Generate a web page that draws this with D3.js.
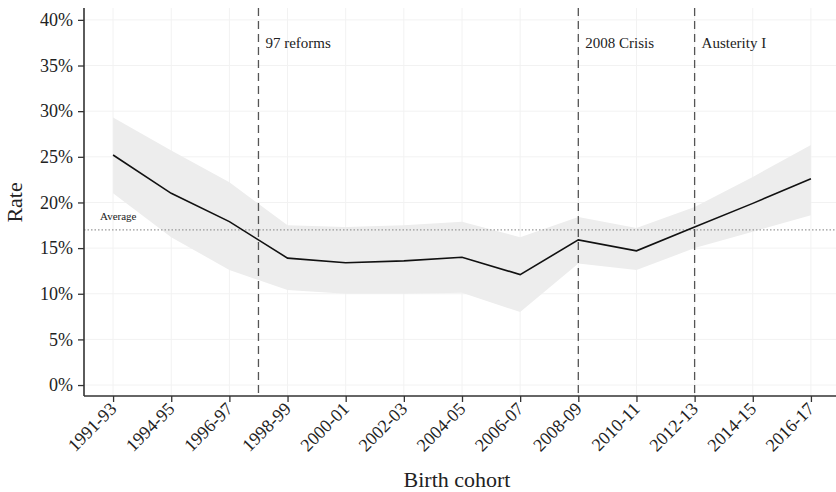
<!DOCTYPE html>
<html>
<head>
<meta charset="utf-8">
<script src="https://cdn.jsdelivr.net/npm/d3@7"></script>
<style>
  body { margin: 0; background: #fff; }
  svg text { font-family: "Liberation Serif", "DejaVu Serif", serif; fill: #222; }
</style>
</head>
<body>
<div id="chart"></div>
<script>
let width = 836;
let height = 492;

// data
let cohorts = ["1991-93", "1994-95", "1996-97", "1998-99", "2000-01", "2002-03", "2004-05",
	"2006-07", "2008-09", "2010-11", "2012-13", "2014-15", "2016-17"];
let rate  = [25.2, 21.0, 17.9, 13.9, 13.4, 13.6, 14.0, 12.1, 15.9, 14.7, 17.3, 19.9, 22.6];
let upper = [29.3, 25.7, 22.2, 17.5, 17.3, 17.5, 17.9, 16.2, 18.4, 17.2, 19.5, 22.8, 26.3];
let lower = [21.0, 16.2, 12.6, 10.4, 10.0, 10.0, 10.1, 8.0, 13.3, 12.6, 15.0, 16.8, 18.6];
let yTicks = [0, 5, 10, 15, 20, 25, 30, 35, 40];
let average = 17.0;
// position in cohort index units
let events = [
	{pos: 2.5, label: "97 reforms"},
	{pos: 8, label: "2008 Crisis"},
	{pos: 10, label: "Austerity I"}
];

let pLeft = 84, pRight = 840, pTop = 8, pBottom = 396;
let serif = "'Liberation Serif', 'DejaVu Serif', serif";

let svg = d3.select("#chart").append("svg")
	.attr("width", width).attr("height", height);

let x = d3.scalePoint().domain(cohorts).range([pLeft, pRight]).padding(0.5);
let xi = d3.scaleLinear().domain([0, cohorts.length - 1])
	.range([x(cohorts[0]), x(cohorts[cohorts.length - 1])]);
let y = d3.scaleLinear().domain([-1.2, 41.3]).range([pBottom, pTop]);

// grid
svg.append("g").selectAll("line").data(yTicks).join("line")
	.attr("x1", pLeft).attr("x2", pRight)
	.attr("y1", d => y(d)).attr("y2", d => y(d))
	.attr("stroke", "#f2f2f2").attr("stroke-width", 1);
svg.append("g").selectAll("line").data(cohorts).join("line")
	.attr("x1", d => x(d)).attr("x2", d => x(d))
	.attr("y1", pTop).attr("y2", pBottom)
	.attr("stroke", "#f2f2f2").attr("stroke-width", 1);

// confidence ribbon
let band = d3.area()
	.x((d, i) => x(cohorts[i]))
	.y0((d, i) => y(lower[i]))
	.y1((d, i) => y(upper[i]));
svg.append("path").datum(rate)
	.attr("d", band)
	.attr("fill", "#ededed");

// average line
svg.append("line")
	.attr("x1", pLeft).attr("x2", pRight)
	.attr("y1", y(average)).attr("y2", y(average))
	.attr("stroke", "#999").attr("stroke-width", 1.2)
	.attr("stroke-dasharray", "1.5,2");
svg.append("text")
	.attr("x", 100).attr("y", y(average) - 10)
	.style("font-family", serif).style("font-size", "11px")
	.text("Average");

// event lines
svg.append("g").selectAll("line").data(events).join("line")
	.attr("x1", d => xi(d.pos)).attr("x2", d => xi(d.pos))
	.attr("y1", pTop).attr("y2", pBottom)
	.attr("stroke", "#555").attr("stroke-width", 1.3)
	.attr("stroke-dasharray", "8,5");
svg.append("g").selectAll("text").data(events).join("text")
	.attr("x", d => xi(d.pos) + 7).attr("y", 48)
	.style("font-family", serif).style("font-size", "15px")
	.text(d => d.label);

// main line
let line = d3.line()
	.x((d, i) => x(cohorts[i]))
	.y(d => y(d));
svg.append("path").datum(rate)
	.attr("d", line)
	.attr("fill", "none").attr("stroke", "#111").attr("stroke-width", 1.6);

// axes
let yAxis = svg.append("g")
	.attr("transform", `translate(${pLeft},0)`)
	.call(d3.axisLeft(y).tickValues(yTicks).tickSize(6).tickPadding(5).tickFormat(d => d + "%"));
yAxis.select(".domain").attr("d", `M0,${pTop}V${pBottom}`).attr("stroke", "#333").attr("stroke-width", 1.6);
yAxis.selectAll(".tick line").attr("stroke", "#333").attr("stroke-width", 1.3);
yAxis.selectAll(".tick text")
	.style("font-family", serif).style("font-size", "18px").style("fill", "#222");

let xAxis = svg.append("g")
	.attr("transform", `translate(0,${pBottom})`)
	.call(d3.axisBottom(x).tickSize(6).tickPadding(4));
xAxis.select(".domain").attr("d", `M${pLeft},0H${width}`).attr("stroke", "#333").attr("stroke-width", 1.6);
xAxis.selectAll(".tick line").attr("stroke", "#333").attr("stroke-width", 1.3);
xAxis.selectAll(".tick text")
	.style("font-family", serif).style("font-size", "18px").style("fill", "#222")
	.attr("text-anchor", "end")
	.attr("dy", 0)
	.attr("transform", "translate(4,14) rotate(-45)")
	.attr("y", 0).attr("x", 0);

// axis titles
svg.append("text")
	.attr("x", 457).attr("y", 487)
	.attr("text-anchor", "middle")
	.style("font-family", serif).style("font-size", "22px")
	.text("Birth cohort");
svg.append("text")
	.attr("transform", `translate(22,${y(20)}) rotate(-90)`)
	.attr("text-anchor", "middle")
	.style("font-family", serif).style("font-size", "22px")
	.text("Rate");
</script>
</body>
</html>
